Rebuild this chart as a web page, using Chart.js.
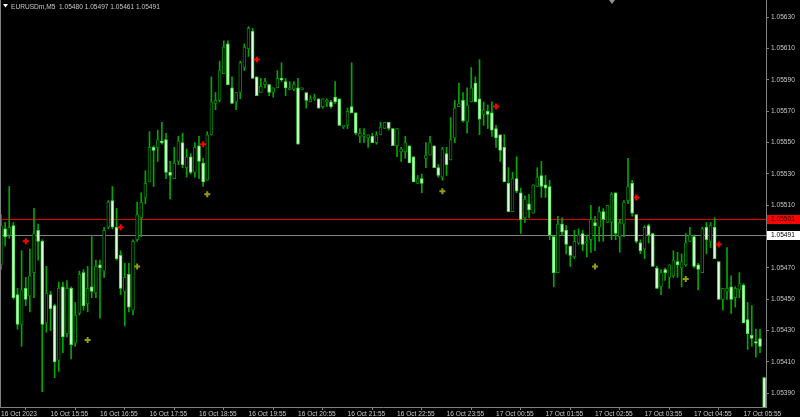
<!DOCTYPE html>
<html>
<head>
<meta charset="utf-8">
<script src="https://cdn.jsdelivr.net/npm/chart.js@4.4.0/dist/chart.umd.min.js"></script>
<style>
  html, body { margin: 0; padding: 0; background: #000; }
  #wrap { width: 800px; height: 417px; }
</style>
</head>
<body>
<div id="wrap"><canvas id="chart" width="800" height="417"></canvas></div>
<script>
// EURUSDm M5 candles, bar index 0 = 16 Oct 14:55
const opens = [
  1.05472, 1.05495, 1.05491, 1.05497, 1.05453, 1.05434, 1.05457, 1.05452, 1.05467, 1.05494,
  1.05487, 1.05435, 1.05453, 1.05446, 1.05411, 1.05458, 1.05428, 1.05457, 1.05422, 1.05441,
  1.05467, 1.05447, 1.05458, 1.05454, 1.05472, 1.05468, 1.05496, 1.05513, 1.05496, 1.05478,
  1.05455, 1.05466, 1.05443, 1.05488, 1.05502, 1.05515, 1.05525, 1.05547, 1.05547, 1.05551,
  1.05552, 1.05531, 1.05527, 1.05538, 1.05550, 1.05534, 1.05541, 1.05531, 1.05548, 1.05537,
  1.05526, 1.05555, 1.05575, 1.05577, 1.05594, 1.05613, 1.05585, 1.05576, 1.05582, 1.05598,
  1.05610, 1.05621, 1.05592, 1.05582, 1.05587, 1.05587, 1.05582, 1.05585, 1.05591, 1.05589,
  1.05584, 1.05584, 1.05585, 1.05584, 1.05582, 1.05576, 1.05578, 1.05578, 1.05573, 1.05576,
  1.05576, 1.05579, 1.05578, 1.05560, 1.05561, 1.05573, 1.05569, 1.05554, 1.05554, 1.05553,
  1.05554, 1.05550, 1.05555, 1.05559, 1.05563, 1.05559, 1.05548, 1.05544, 1.05544, 1.05548,
  1.05541, 1.05524, 1.05527, 1.05540, 1.05542, 1.05548, 1.05534, 1.05528, 1.05543, 1.05539,
  1.05553, 1.05573, 1.05577, 1.05563, 1.05576, 1.05588, 1.05578, 1.05568, 1.05570, 1.05569,
  1.05559, 1.05555, 1.05547, 1.05524, 1.05506, 1.05527, 1.05518, 1.05502, 1.05511, 1.05505,
  1.05522, 1.05529, 1.05523, 1.05522, 1.05490, 1.05467, 1.05498, 1.05494, 1.05484, 1.05477,
  1.05486, 1.05492, 1.05486, 1.05488, 1.05499, 1.05496, 1.05506, 1.05499, 1.05499, 1.05518,
  1.05490, 1.05498, 1.05513, 1.05524, 1.05504, 1.05486, 1.05482, 1.05497, 1.05492, 1.05470,
  1.05458, 1.05469, 1.05464, 1.05465, 1.05474, 1.05470, 1.05472, 1.05487, 1.05490, 1.05472,
  1.05467, 1.05496, 1.05487, 1.05496, 1.05474, 1.05450, 1.05455, 1.05458, 1.05451, 1.05456,
  1.05459, 1.05437, 1.05427, 1.05423, 1.05425, 1.05400
];
const highs = [
  1.05504, 1.05499, 1.05522, 1.05499, 1.05457, 1.05481, 1.05464, 1.05482, 1.05508, 1.05498,
  1.05488, 1.05471, 1.05455, 1.05447, 1.05461, 1.05461, 1.05462, 1.05458, 1.05448, 1.05468,
  1.05469, 1.05471, 1.05490, 1.05475, 1.05475, 1.05496, 1.05513, 1.05522, 1.05508, 1.05481,
  1.05473, 1.05473, 1.05488, 1.05512, 1.05518, 1.05532, 1.05557, 1.05548, 1.05558, 1.05563,
  1.05556, 1.05538, 1.05547, 1.05554, 1.05556, 1.05546, 1.05543, 1.05550, 1.05554, 1.05540,
  1.05557, 1.05592, 1.05582, 1.05602, 1.05615, 1.05615, 1.05592, 1.05582, 1.05602, 1.05613,
  1.05624, 1.05623, 1.05592, 1.05591, 1.05591, 1.05587, 1.05585, 1.05596, 1.05601, 1.05591,
  1.05589, 1.05589, 1.05591, 1.05585, 1.05582, 1.05580, 1.05581, 1.05578, 1.05578, 1.05578,
  1.05577, 1.05589, 1.05578, 1.05561, 1.05572, 1.05601, 1.05569, 1.05559, 1.05559, 1.05555,
  1.05556, 1.05557, 1.05563, 1.05563, 1.05563, 1.05559, 1.05559, 1.05547, 1.05554, 1.05548,
  1.05541, 1.05529, 1.05530, 1.05550, 1.05554, 1.05548, 1.05536, 1.05547, 1.05547, 1.05566,
  1.05577, 1.05588, 1.05582, 1.05585, 1.05598, 1.05592, 1.05603, 1.05576, 1.05574, 1.05576,
  1.05561, 1.05555, 1.05555, 1.05534, 1.05531, 1.05541, 1.05521, 1.05516, 1.05517, 1.05523,
  1.05534, 1.05538, 1.05529, 1.05526, 1.05490, 1.05503, 1.05502, 1.05497, 1.05484, 1.05494,
  1.05495, 1.05494, 1.05491, 1.05510, 1.05503, 1.05509, 1.05508, 1.05510, 1.05518, 1.05518,
  1.05501, 1.05513, 1.05540, 1.05526, 1.05504, 1.05488, 1.05497, 1.05498, 1.05492, 1.05471,
  1.05469, 1.05470, 1.05472, 1.05481, 1.05480, 1.05479, 1.05492, 1.05496, 1.05491, 1.05473,
  1.05496, 1.05499, 1.05499, 1.05502, 1.05474, 1.05457, 1.05483, 1.05465, 1.05458, 1.05467,
  1.05460, 1.05448, 1.05446, 1.05431, 1.05431, 1.05400
];
const lows = [
  1.05469, 1.05484, 1.05489, 1.05450, 1.05431, 1.05420, 1.05446, 1.05442, 1.05451, 1.05475,
  1.05391, 1.05429, 1.05430, 1.05400, 1.05404, 1.05416, 1.05426, 1.05412, 1.05420, 1.05440,
  1.05443, 1.05442, 1.05451, 1.05451, 1.05438, 1.05464, 1.05495, 1.05495, 1.05475, 1.05453,
  1.05433, 1.05442, 1.05440, 1.05487, 1.05490, 1.05511, 1.05525, 1.05522, 1.05538, 1.05549,
  1.05527, 1.05514, 1.05527, 1.05536, 1.05534, 1.05528, 1.05530, 1.05528, 1.05527, 1.05522,
  1.05526, 1.05555, 1.05571, 1.05576, 1.05594, 1.05587, 1.05575, 1.05571, 1.05578, 1.05596,
  1.05605, 1.05591, 1.05580, 1.05582, 1.05585, 1.05580, 1.05579, 1.05585, 1.05589, 1.05580,
  1.05584, 1.05583, 1.05549, 1.05584, 1.05572, 1.05576, 1.05577, 1.05572, 1.05572, 1.05573,
  1.05572, 1.05575, 1.05561, 1.05559, 1.05559, 1.05569, 1.05555, 1.05550, 1.05550, 1.05547,
  1.05550, 1.05549, 1.05555, 1.05559, 1.05558, 1.05548, 1.05541, 1.05538, 1.05540, 1.05537,
  1.05525, 1.05524, 1.05518, 1.05534, 1.05542, 1.05534, 1.05528, 1.05526, 1.05529, 1.05539,
  1.05550, 1.05573, 1.05563, 1.05556, 1.05576, 1.05576, 1.05555, 1.05561, 1.05559, 1.05554,
  1.05547, 1.05538, 1.05525, 1.05506, 1.05506, 1.05518, 1.05492, 1.05499, 1.05502, 1.05505,
  1.05522, 1.05515, 1.05515, 1.05488, 1.05458, 1.05467, 1.05491, 1.05479, 1.05471, 1.05476,
  1.05485, 1.05481, 1.05477, 1.05480, 1.05481, 1.05487, 1.05487, 1.05499, 1.05488, 1.05488,
  1.05480, 1.05490, 1.05511, 1.05503, 1.05486, 1.05479, 1.05476, 1.05486, 1.05471, 1.05457,
  1.05453, 1.05462, 1.05457, 1.05464, 1.05464, 1.05458, 1.05471, 1.05487, 1.05470, 1.05456,
  1.05467, 1.05479, 1.05483, 1.05476, 1.05450, 1.05443, 1.05450, 1.05441, 1.05445, 1.05451,
  1.05435, 1.05418, 1.05420, 1.05413, 1.05416, 1.05378
];
const closes = [
  1.05497, 1.05490, 1.05496, 1.05451, 1.05434, 1.05456, 1.05450, 1.05465, 1.05492, 1.05487,
  1.05434, 1.05454, 1.05444, 1.05410, 1.05457, 1.05426, 1.05457, 1.05421, 1.05440, 1.05466,
  1.05446, 1.05457, 1.05455, 1.05471, 1.05470, 1.05494, 1.05512, 1.05496, 1.05476, 1.05457,
  1.05464, 1.05445, 1.05487, 1.05504, 1.05512, 1.05524, 1.05547, 1.05545, 1.05552, 1.05550,
  1.05531, 1.05529, 1.05537, 1.05551, 1.05536, 1.05541, 1.05531, 1.05547, 1.05538, 1.05525,
  1.05555, 1.05576, 1.05577, 1.05596, 1.05611, 1.05587, 1.05575, 1.05582, 1.05601, 1.05611,
  1.05623, 1.05591, 1.05580, 1.05586, 1.05589, 1.05582, 1.05585, 1.05591, 1.05590, 1.05585,
  1.05585, 1.05587, 1.05549, 1.05585, 1.05577, 1.05578, 1.05579, 1.05572, 1.05578, 1.05577,
  1.05573, 1.05576, 1.05561, 1.05561, 1.05570, 1.05569, 1.05556, 1.05556, 1.05555, 1.05555,
  1.05550, 1.05555, 1.05560, 1.05563, 1.05559, 1.05548, 1.05559, 1.05546, 1.05550, 1.05537,
  1.05525, 1.05527, 1.05524, 1.05542, 1.05550, 1.05534, 1.05529, 1.05546, 1.05536, 1.05552,
  1.05572, 1.05575, 1.05564, 1.05574, 1.05585, 1.05576, 1.05565, 1.05571, 1.05568, 1.05558,
  1.05553, 1.05545, 1.05525, 1.05506, 1.05527, 1.05519, 1.05501, 1.05514, 1.05507, 1.05523,
  1.05528, 1.05522, 1.05521, 1.05491, 1.05467, 1.05498, 1.05493, 1.05485, 1.05478, 1.05487,
  1.05491, 1.05485, 1.05487, 1.05501, 1.05497, 1.05506, 1.05501, 1.05510, 1.05517, 1.05492,
  1.05499, 1.05512, 1.05522, 1.05505, 1.05487, 1.05481, 1.05496, 1.05491, 1.05471, 1.05457,
  1.05467, 1.05467, 1.05472, 1.05475, 1.05472, 1.05474, 1.05486, 1.05491, 1.05471, 1.05469,
  1.05495, 1.05488, 1.05497, 1.05476, 1.05450, 1.05457, 1.05457, 1.05450, 1.05457, 1.05460,
  1.05435, 1.05428, 1.05425, 1.05422, 1.05420, 1.05380
];

// indicator arrows (bar index + price)
const redIdx = [6, 29, 49, 62, 120, 154, 174];
const redPrice = [1.05487, 1.05496, 1.05549, 1.05603, 1.05573, 1.05515, 1.05485];
const oliveIdx = [21, 33, 50, 107, 144, 166];
const olivePrice = [1.05424, 1.05471, 1.05517, 1.05519, 1.05471, 1.05463];

// axes
const priceTicks = [1.05390, 1.05410, 1.05430, 1.05450, 1.05470, 1.05510, 1.05530, 1.05550, 1.05570, 1.05590, 1.05610, 1.05630];
const timeTickIdx = [0, 12, 24, 36, 48, 60, 72, 84, 96, 108, 120, 132, 144, 156, 168, 180];
const timeLabels = ['16 Oct 2023', '16 Oct 15:55', '16 Oct 16:55', '16 Oct 17:55', '16 Oct 18:55', '16 Oct 19:55',
  '16 Oct 20:55', '16 Oct 21:55', '16 Oct 22:55', '16 Oct 23:55', '17 Oct 00:55', '17 Oct 01:55',
  '17 Oct 02:55', '17 Oct 03:55', '17 Oct 04:55', '17 Oct 05:55'];

const askPrice = 1.05501;
const bidPrice = 1.05491;
const headerText = 'EURUSDm,M5  1.05480 1.05497 1.05461 1.05491';

const axisColor = '#808080';
const textColor = '#c8c8c8';
const smallFont = { family: "'Liberation Sans', Arial, sans-serif", size: 6.6 };

const bodies = opens.map((o, i) => ({ x: i, y: [o, closes[i]] }));
const wicks = opens.map((o, i) => ({ x: i, y: [lows[i], highs[i]] }));
const redPts = redIdx.map((x, k) => ({ x: x, y: redPrice[k] }));
const olivePts = oliveIdx.map((x, k) => ({ x: x, y: olivePrice[k] }));

const isBear = (i) => closes[i] < opens[i];

// bid/ask lines + labels, header text
const overlay = {
    id: 'overlay',
    beforeDatasetsDraw(chart) {
        const ctx = chart.ctx;
        const area = chart.chartArea;
        const y = chart.scales.y;
        ctx.save();
        ctx.fillStyle = '#e00000';
        ctx.fillRect(area.left, Math.round(y.getPixelForValue(askPrice)), area.right - area.left, 1);
        ctx.fillStyle = '#808080';
        ctx.fillRect(area.left, Math.round(y.getPixelForValue(bidPrice)), area.right - area.left, 1);
        ctx.restore();
    },
    afterDraw(chart) {
        const ctx = chart.ctx;
        const area = chart.chartArea;
        const y = chart.scales.y;
        ctx.save();
        ctx.font = smallFont.size + 'px ' + smallFont.family;
        ctx.textBaseline = 'middle';
        ctx.textAlign = 'left';

        const ya = y.getPixelForValue(askPrice);
        ctx.fillStyle = '#ff0000';
        ctx.fillRect(area.right + 1, Math.round(ya) - 4, 33, 9);
        ctx.fillStyle = '#300000';
        ctx.fillText(askPrice.toFixed(5), area.right + 5, Math.round(ya) + 0.5);

        const yb = y.getPixelForValue(bidPrice);
        ctx.fillStyle = '#ffffff';
        ctx.fillRect(area.right + 1, Math.round(yb) - 4, 33, 9);
        ctx.fillStyle = '#000000';
        ctx.fillText(bidPrice.toFixed(5), area.right + 5, Math.round(yb) + 0.5);

        // header
        ctx.fillStyle = '#ffffff';
        ctx.beginPath(); ctx.moveTo(3, 4); ctx.lineTo(8, 4); ctx.lineTo(5.5, 7.5); ctx.closePath(); ctx.fill();
        ctx.fillStyle = textColor;
        ctx.textBaseline = 'alphabetic';
        ctx.fillText(headerText, 11, 8.5);

        // chart shift marker
        ctx.fillStyle = '#909090';
        ctx.beginPath(); ctx.moveTo(609, 0); ctx.lineTo(615, 0); ctx.lineTo(612, 4); ctx.closePath(); ctx.fill();

        // left frame line
        ctx.fillStyle = axisColor;
        ctx.fillRect(0, 0, 1, area.bottom);
        ctx.restore();
    }
};

new Chart(document.getElementById('chart'), {
    type: 'bar',
    data: {
        datasets: [
            {
                type: 'scatter',
                data: redPts,
                pointStyle: 'cross',
                pointRadius: 3,
                borderWidth: 2,
                borderColor: '#ff0000',
                backgroundColor: '#ff0000'
            },
            {
                type: 'scatter',
                data: olivePts,
                pointStyle: 'cross',
                pointRadius: 3,
                borderWidth: 2,
                borderColor: '#9a9a10',
                backgroundColor: '#9a9a10'
            },
            {
                label: 'body',
                data: bodies,
                grouped: false,
                barThickness: 3,
                minBarLength: 1,
                borderWidth: 1,
                borderSkipped: false,
                backgroundColor: (c) => isBear(c.dataIndex) ? '#e0ffe0' : '#000000',
                borderColor: (c) => isBear(c.dataIndex) ? '#40e040' : '#008800'
            },
            {
                label: 'wick',
                data: wicks,
                grouped: false,
                barThickness: 1,
                borderWidth: 0,
                backgroundColor: '#00a800'
            }
        ]
    },
    options: {
        responsive: false,
        animation: false,
        events: [],
        layout: { padding: 0, autoPadding: false },
        plugins: {
            legend: { display: false },
            tooltip: { enabled: false }
        },
        scales: {
            x: {
                type: 'linear',
                position: 'bottom',
                offset: false,
                min: -0.24,
                max: 185.45,
                afterBuildTicks: (s) => { s.ticks = timeTickIdx.map(v => ({ value: v })); },
                afterFit: (s) => { s.height = 10; s.paddingLeft = 0; s.paddingRight = 0; },
                ticks: {
                    autoSkip: false,
                    maxRotation: 0,
                    align: 'start',
                    padding: 0,
                    color: textColor,
                    font: smallFont,
                    callback: (v, i) => timeLabels[i]
                },
                grid: { drawOnChartArea: false, tickLength: 3, color: axisColor },
                border: { color: axisColor }
            },
            y: {
                type: 'linear',
                position: 'right',
                min: 1.0538126,
                max: 1.0564104,
                afterBuildTicks: (s) => { s.ticks = priceTicks.map(v => ({ value: v })); },
                afterFit: (s) => { s.width = 34; s.paddingTop = 0; s.paddingBottom = 0; },
                ticks: {
                    padding: 2,
                    color: textColor,
                    font: smallFont,
                    callback: (v) => Number(v).toFixed(5)
                },
                grid: { drawOnChartArea: false, tickLength: 3, color: axisColor },
                border: { color: axisColor }
            }
        }
    },
    plugins: [overlay]
});
</script>
</body>
</html>
